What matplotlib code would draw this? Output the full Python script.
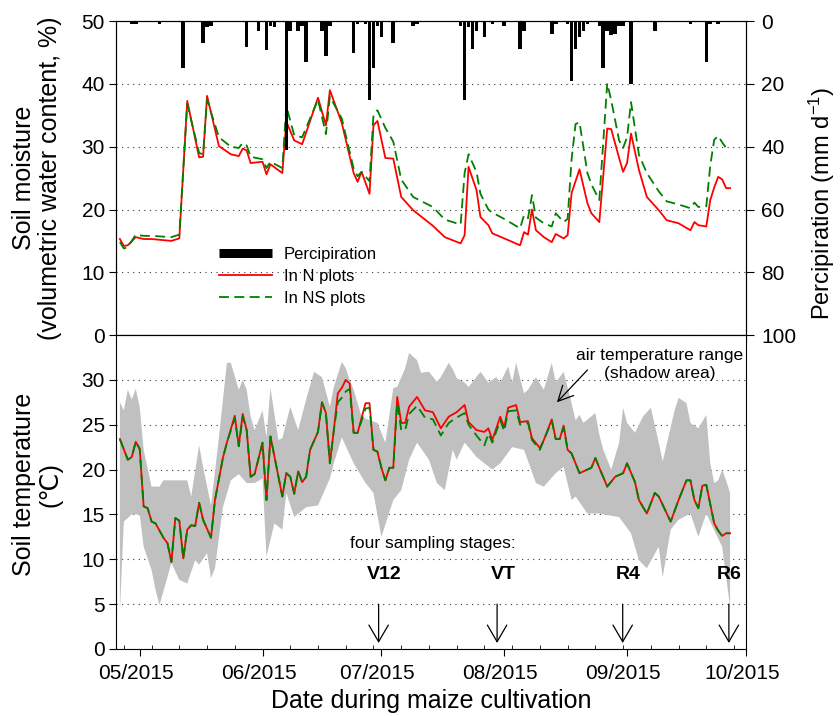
import numpy as np
import matplotlib
matplotlib.use('Agg')
import matplotlib.pyplot as plt
import matplotlib.dates as mdates
import matplotlib.transforms as mtransforms
from matplotlib.lines import Line2D
from matplotlib.ticker import NullLocator

plt.rcParams['font.family'] = ['Liberation Sans', 'DejaVu Sans']
plt.rcParams['mathtext.default'] = 'regular'

# all x values are days after 1 May 2015
t0 = mdates.date2num(np.datetime64('2015-05-01'))

# soil moisture (%)
moist_days = [-5, -4, -3, -1, 1, 3, 8, 10, 12, 15,
              16, 17, 20, 23, 25, 26, 27, 28, 31, 32,
              33, 36, 37, 39, 41, 45, 47, 48, 51, 54,
              55, 56, 58, 59, 60, 62, 64, 66, 69, 74,
              77, 81, 82, 83, 85, 86, 88, 89, 92, 96,
              97, 98, 99, 100, 102, 104, 105, 107, 108, 109,
              110, 111, 113, 114, 116, 118, 119, 121, 122, 123,
              124, 126, 128, 131, 133, 136, 139, 140, 141, 143,
              144, 145, 146, 147, 148, 149]
moist_n = [15.3, 14.2, 14.3, 15.6, 15.3, 15.3, 15.0, 15.4, 37.3, 28.3,
           28.4, 38.1, 30.1, 28.8, 28.5, 29.7, 29.4, 27.4, 27.6, 25.6,
           27.2, 25.8, 34.0, 31.0, 30.4, 37.8, 33.4, 39.0, 33.8, 25.8,
           24.4, 26.0, 22.5, 33.4, 34.1, 28.2, 28.1, 22.0, 19.9, 17.4,
           15.6, 14.6, 15.9, 26.8, 23.1, 18.8, 17.5, 16.2, 15.4, 14.3,
           16.4, 16.0, 20.0, 16.7, 15.6, 14.8, 16.1, 15.4, 15.9, 22.6,
           24.5, 26.4, 21.0, 19.4, 18.0, 32.9, 32.8, 28.2, 26.0, 27.4,
           32.1, 26.3, 22.0, 19.9, 18.3, 17.8, 16.7, 18.0, 17.5, 17.3,
           21.5, 23.5, 25.2, 24.8, 23.4, 23.4]
moist_ns = [14.8, 13.8, 14.0, 16.0, 15.8, 15.8, 15.6, 16.0, 36.8, 29.0,
            28.8, 37.5, 31.5, 30.0, 29.8, 30.6, 30.2, 28.4, 28.0, 26.6,
            27.6, 26.6, 36.5, 31.8, 31.5, 37.5, 32.0, 38.0, 34.5, 26.5,
            25.3, 26.0, 24.5, 35.0, 35.8, 33.0, 30.8, 24.8, 22.0, 20.4,
            18.4, 17.6, 25.8, 28.8, 26.0, 22.5, 20.0, 19.5, 18.5, 17.0,
            19.1, 18.6, 22.3, 18.7, 17.8, 17.3, 19.4, 18.0, 18.5, 28.0,
            33.6, 33.9, 25.8, 24.0, 21.5, 40.1, 37.4, 31.0, 29.8, 31.5,
            37.1, 28.7, 25.8, 22.9, 21.3, 20.8, 20.2, 21.1, 20.4, 20.5,
            27.0, 31.1, 31.7, 30.7, 29.8, 29.8]

# precipitation (mm/d)
rain_days = [-2, -1, 5, 11, 16, 17, 18, 27, 30, 32, 33, 34, 37, 38, 40, 41, 42,
             46, 47, 48, 54, 55, 57, 58, 59, 60, 61, 64, 69, 70, 81, 82, 83, 84,
             85, 87, 89, 92, 96, 97, 104, 105, 108, 109, 110, 111, 112, 113,
             116, 117, 118, 119, 120, 121, 122, 124, 130, 139, 143, 144, 146]
rain = [1.0, 0.8, 1.0, 15, 7, 2, 1.5, 8.2, 3, 9.2, 1.5, 2, 41, 3, 3, 1.5, 13,
        3, 11, 1.5, 10, 1, 1, 25, 15, 1.5, 5, 7, 1.5, 1, 1.5, 25, 2, 9,
        3, 5, 1, 1.5, 9, 3, 4, 1, 1, 19, 9, 5, 3, 1,
        1.5, 15, 3, 4.5, 4, 1.5, 1.5, 20, 3, 1, 13, 1, 1]

# soil temperature (deg C)
temp_days = [-5, -3, -2, -1, 0, 1, 2, 3, 4, 6,
             7, 8, 9, 10, 11, 12, 13, 14, 15, 16,
             18, 19, 21, 22, 24, 25, 26, 27, 28, 29,
             31, 32, 33, 36, 37, 38, 39, 40, 41, 42,
             43, 45, 46, 47, 48, 49, 50, 51, 52, 53,
             54, 55, 57, 58, 59, 60, 61, 62, 63, 64,
             65, 66, 67, 68, 70, 72, 74, 76, 78, 80,
             82, 83, 85, 87, 88, 89, 91, 92, 93, 95,
             96, 98, 99, 101, 102, 104, 105, 106, 107, 108,
             109, 111, 114, 115, 116, 118, 120, 122, 123, 125,
             126, 128, 130, 131, 134, 136, 138, 139, 140, 141,
             142, 143, 145, 146, 147, 148, 149]
temp_n = [23.4, 21.1, 21.4, 23.1, 22.3, 15.9, 15.7, 14.2, 14.0, 12.4,
          11.8, 9.7, 14.6, 14.3, 10.1, 13.3, 13.8, 13.7, 16.3, 14.4,
          12.4, 16.6, 21.3, 23.0, 26.0, 22.6, 26.2, 24.4, 19.2, 19.5,
          23.0, 16.6, 23.7, 17.0, 19.6, 19.2, 17.3, 19.8, 18.6, 19.2,
          22.2, 24.2, 27.5, 26.3, 20.7, 24.4, 28.5, 29.1, 30.0, 29.6,
          24.1, 24.1, 27.4, 27.4, 22.2, 22.0, 20.2, 18.8, 20.2, 20.2,
          28.1, 25.2, 25.2, 27.0, 28.1, 26.6, 26.4, 24.6, 25.9, 26.4,
          27.2, 25.3, 24.4, 24.2, 24.6, 23.3, 25.9, 24.7, 26.9, 27.2,
          25.3, 25.4, 23.5, 22.4, 23.3, 25.6, 23.4, 23.4, 24.9, 22.2,
          21.8, 19.6, 20.2, 21.3, 20.2, 18.1, 19.2, 19.6, 20.7, 18.6,
          16.6, 15.1, 17.4, 17.0, 14.2, 16.6, 18.8, 18.8, 16.6, 15.7,
          18.2, 18.3, 14.0, 13.2, 12.6, 12.9, 12.9]
temp_ns = [23.4, 21.1, 21.4, 23.1, 22.3, 15.9, 15.7, 14.2, 14.0, 12.4,
           11.8, 9.7, 14.6, 14.3, 10.1, 13.3, 13.8, 13.7, 16.3, 14.4,
           12.4, 16.6, 21.3, 23.0, 25.7, 22.6, 25.9, 24.4, 19.2, 19.5,
           23.0, 16.6, 23.7, 17.0, 19.6, 19.2, 17.3, 19.8, 18.6, 19.2,
           22.2, 24.2, 27.5, 26.3, 20.7, 24.4, 27.5, 28.0, 28.7, 29.0,
           24.1, 24.1, 26.8, 26.9, 22.2, 22.0, 20.2, 18.8, 20.2, 20.2,
           27.5, 24.4, 24.4, 26.2, 27.1, 25.8, 25.6, 23.8, 25.2, 25.8,
           26.3, 25.0, 23.8, 22.7, 24.0, 23.0, 25.5, 24.3, 26.5, 26.6,
           25.0, 25.2, 23.3, 22.2, 23.3, 25.4, 23.4, 23.4, 24.7, 22.2,
           21.8, 19.6, 20.2, 21.3, 20.2, 18.1, 19.2, 19.6, 20.7, 18.6,
           16.6, 15.1, 17.4, 17.0, 14.2, 16.6, 18.8, 18.8, 16.6, 15.7,
           18.2, 18.3, 14.0, 13.2, 12.6, 12.9, 12.9]

# air temperature range: upper and lower edges
air_hi_days = [-5, -4, -3, -2, -1, 0, 1, 3, 5, 6,
               12, 13, 15, 16, 18, 20, 22, 23, 25, 26,
               27, 28, 29, 31, 32, 33, 35, 36, 38, 40,
               42, 44, 46, 48, 49, 51, 52, 53, 54, 56,
               58, 60, 62, 64, 65, 67, 68, 70, 71, 73,
               75, 76, 78, 79, 80, 82, 83, 86, 88, 90,
               91, 93, 94, 95, 97, 98, 100, 102, 104, 105,
               107, 109, 110, 111, 112, 115, 116, 117, 119, 121,
               122, 123, 125, 127, 129, 131, 132, 135, 136, 138,
               139, 141, 143, 144, 145, 146, 147, 148, 149]
air_hi = [27.5, 26.6, 28.9, 27.8, 29.0, 27.0, 22.2, 18.1, 18.1, 18.8,
          18.8, 17.0, 22.7, 20.3, 16.0, 23.6, 31.9, 31.9, 28.9, 30.0,
          28.9, 25.9, 24.4, 26.6, 23.6, 29.1, 23.3, 23.5, 27.0, 24.4,
          27.8, 30.9, 30.3, 27.0, 29.2, 32.0, 31.3, 30.0, 28.9, 25.9,
          25.5, 25.2, 23.0, 29.1, 29.2, 31.3, 33.0, 32.2, 30.8, 30.9,
          29.8, 30.3, 31.9, 31.2, 30.2, 29.7, 29.2, 30.9, 29.7, 30.3,
          29.7, 31.5, 29.7, 31.9, 28.5, 28.9, 30.3, 28.9, 31.9, 29.7,
          30.9, 27.4, 25.5, 26.1, 25.2, 26.3, 23.9, 22.2, 20.0, 23.0,
          26.9, 25.2, 24.1, 25.9, 26.9, 23.0, 20.9, 26.6, 28.0, 27.4,
          25.2, 24.6, 26.1, 20.7, 18.5, 18.8, 20.0, 18.8, 17.4]
air_lo_days = [-5, -4, -2, 0, 1, 3, 4, 5, 7, 8,
               10, 12, 14, 15, 17, 18, 19, 21, 23, 25,
               27, 29, 31, 32, 34, 36, 37, 39, 42, 45,
               48, 49, 51, 54, 57, 59, 61, 64, 66, 68,
               70, 73, 75, 77, 79, 80, 82, 83, 85, 89,
               91, 94, 97, 100, 102, 105, 107, 109, 110, 113,
               116, 121, 124, 126, 128, 131, 132, 134, 136, 139,
               141, 143, 147, 149]
air_lo = [4.0, 14.2, 15.0, 15.0, 11.4, 8.8, 6.6, 4.9, 8.0, 9.6,
          7.7, 7.3, 9.9, 9.4, 10.7, 7.9, 9.0, 15.8, 18.8, 19.5,
          18.5, 18.5, 19.0, 10.3, 14.0, 13.3, 17.4, 14.7, 15.8, 16.0,
          19.0, 20.7, 23.6, 20.7, 18.5, 17.4, 12.5, 16.6, 17.7, 21.1,
          23.0, 21.1, 18.5, 17.7, 22.2, 21.1, 23.0, 22.5, 21.4, 20.0,
          20.7, 22.5, 22.2, 18.5, 18.1, 19.6, 20.3, 16.6, 17.0, 15.1,
          15.1, 14.7, 12.9, 9.9, 9.0, 11.4, 8.0, 13.3, 14.4, 15.1,
          12.5, 15.1, 11.4, 4.7]

stages = ['V12', 'VT', 'R4', 'R6']
stage_days = [60.3, 90.2, 121.9, 148.7]
stage_label_days = [61.8, 91.7, 123.4, 148.9]


def dn(days):
    return t0 + np.asarray(days, dtype=float)


red = '#ff0000'
green = '#008000'
grid_kw = dict(color='#333333', linestyle=(0, (1, 4)), linewidth=0.8)

fig = plt.figure(figsize=(8.4, 7.16), dpi=100)
ax1 = fig.add_axes([0.138, 0.532, 0.750, 0.4385])
ax3 = fig.add_axes([0.138, 0.0936, 0.750, 0.4385])
ax2 = ax1.twinx()

xmin, xmax = dn(-6), dn(153)

# ---- top: soil moisture + rain ----
ax1.plot(dn(moist_days), moist_n, color=red, lw=1.3, zorder=3)
ax1.plot(dn(moist_days), moist_ns, color=green, lw=1.3, ls=(0, (5.5, 3)), zorder=4)
ax1.set_ylim(0, 50)
ax1.set_yticks(range(0, 51, 10))
ax1.set_xlim(xmin, xmax)
ax1.grid(axis='y', **grid_kw)
ax1.set_axisbelow(True)
ax1.xaxis.set_major_locator(mdates.MonthLocator())
ax1.xaxis.set_minor_locator(NullLocator())
ax1.tick_params(axis='x', which='major', direction='out', length=5, labelbottom=False)
ax1.tick_params(axis='y', direction='out', length=5, labelsize=15, pad=3)
ax1.set_ylabel('Soil moisture\n(volumetric water content, %)', fontsize=18, linespacing=1.1)
ax1.yaxis.set_label_coords(-0.085, 0.5)

ax2.bar(dn(rain_days), rain, width=0.9, color='black', zorder=2)
ax2.set_ylim(100, 0)
ax2.set_yticks(range(0, 101, 20))
ax2.set_xlim(xmin, xmax)
ax2.tick_params(axis='y', direction='out', length=6, labelsize=15, pad=5)
ax2.set_ylabel('Percipiration (mm d$^{-1}$)', fontsize=17)
ax2.yaxis.set_label_coords(1.097, 0.42)

handles = [Line2D([], [], color='black', lw=6.5, solid_capstyle='butt'),
           Line2D([], [], color=red, lw=1.3),
           Line2D([], [], color=green, lw=1.3, ls=(0, (5.5, 3)))]
ax2.legend(handles, ['Percipiration', 'In N plots', 'In NS plots'],
           loc='upper left', bbox_to_anchor=(0.163, 0.28), frameon=False,
           fontsize=12, handlelength=3.2, handletextpad=0.7,
           labelspacing=0.42, borderpad=0, borderaxespad=0)

# ---- bottom: soil temperature ----
band_x = np.concatenate([dn(air_hi_days), dn(air_lo_days)[::-1]])
band_y = np.concatenate([air_hi, air_lo[::-1]])
ax3.fill(band_x, band_y, color='#c0c0c0', lw=0, zorder=1)
ax3.plot(dn(temp_days), temp_n, color=red, lw=1.3, zorder=3)
ax3.plot(dn(temp_days), temp_ns, color=green, lw=1.3, ls=(0, (5.5, 3)), zorder=4)
ax3.set_ylim(0, 35)
ax3.set_yticks(range(0, 31, 5))
ax3.set_xlim(xmin, xmax)
ax3.grid(axis='y', **grid_kw)
ax3.set_axisbelow(True)
ax3.xaxis.set_major_locator(mdates.MonthLocator())
ax3.xaxis.set_minor_locator(mdates.WeekdayLocator(byweekday=mdates.MO))
ax3.xaxis.set_major_formatter(mdates.DateFormatter('%m/%Y'))
ax3.tick_params(axis='x', which='major', direction='out', length=5, labelsize=15, pad=6)
ax3.tick_params(axis='x', which='minor', direction='in', length=3)
ax3.tick_params(axis='y', direction='out', length=5, labelsize=15, pad=3)
shift = mtransforms.ScaledTranslation(-4 / 100, 0, fig.dpi_scale_trans)
for lbl in ax3.get_xticklabels():
    lbl.set_transform(lbl.get_transform() + shift)
ax3.set_ylabel('Soil temperature\n(\u2103)', fontsize=18, linespacing=1.1)
ax3.yaxis.set_label_coords(-0.085, 0.525)
ax3.set_xlabel('Date during maize cultivation', fontsize=18, labelpad=4)

ax3.text(dn(131.2), 31.7, 'air temperature range\n(shadow area)', fontsize=12.5,
         ha='center', va='center', multialignment='center')
ax3.annotate('', xy=(dn(105.3), 27.5), xytext=(dn(113), 31.1),
             arrowprops=dict(arrowstyle='->,head_length=0.6,head_width=0.3',
                             lw=0.9, color='black', mutation_scale=18,
                             shrinkA=0, shrinkB=0))
ax3.text(dn(74.1), 11.8, 'four sampling stages:', fontsize=12.5, ha='center', va='center')
for name, d, ld in zip(stages, stage_days, stage_label_days):
    ax3.text(dn(ld), 8.25, name, fontsize=14, fontweight='bold', ha='center', va='center')
    ax3.annotate('', xy=(dn(d), 0.67), xytext=(dn(d), 5.0),
                 arrowprops=dict(arrowstyle='->,head_length=0.6,head_width=0.35',
                                 lw=0.9, color='black', mutation_scale=20,
                                 shrinkA=0, shrinkB=0))

fig.savefig('out.png', dpi=100)
